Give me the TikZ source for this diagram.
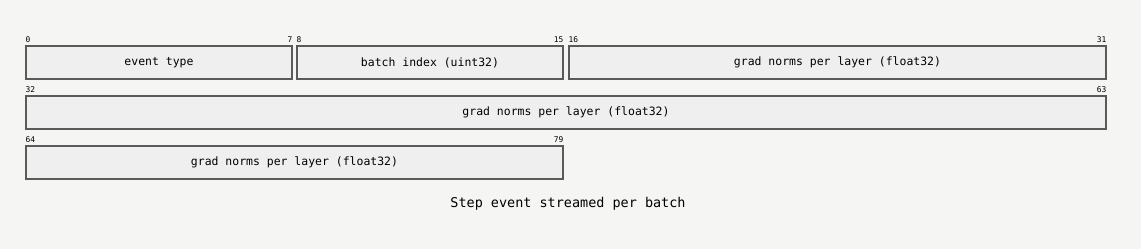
\documentclass[tikz,border=0pt]{standalone}
\usepackage{fontspec}
\setmonofont{DejaVu Sans Mono}
\usetikzlibrary{positioning}
\definecolor{bgcol}{HTML}{F5F5F4}
\definecolor{fieldfill}{HTML}{EFEFEF}
\definecolor{fieldline}{HTML}{5A5A5A}
\definecolor{inkcol}{HTML}{000000}

\begin{document}
\begin{tikzpicture}[
  x=0.75pt, y=-0.75pt,
  every node/.style={font=\ttfamily, text=inkcol},
  field/.style={draw=fieldline, fill=fieldfill, line width=0.9pt,
    minimum height=24.75pt, inner sep=0pt, font=\ttfamily\fontsize{8.6}{10}\selectfont},
  bitlo/.style={anchor=south west, inner sep=0pt, yshift=1.6pt,
    font=\ttfamily\fontsize{5.9}{6}\selectfont},
  bithi/.style={anchor=south east, inner sep=0pt, yshift=1.6pt,
    font=\ttfamily\fontsize{5.9}{6}\selectfont}
]
\fill[bgcol] (0,0) rectangle (1141,249);
\useasboundingbox (0,0) rectangle (1141,249);
% row 1
\node[field, minimum width=199.5pt] (evt) at (159,62.5) {event type};
\node[field, minimum width=199.5pt] (bidx) at (430,62.5) {batch index (uint32)};
\node[field, minimum width=402.75pt] (gn1) at (837.5,62.5) {grad norms per layer (float32)};
% row 2
\node[field, minimum width=810pt] (gn2) at (566,112.5) {grad norms per layer (float32)};
% row 3
\node[field, minimum width=402.75pt] (gn3) at (294.5,162.5) {grad norms per layer (float32)};
% bit offsets
\node[bitlo] at (evt.north west) {0};
\node[bithi] at (evt.north east) {7};
\node[bitlo] at (bidx.north west) {8};
\node[bithi] at (bidx.north east) {15};
\node[bitlo] at (gn1.north west) {16};
\node[bithi] at (gn1.north east) {31};
\node[bitlo] at (gn2.north west) {32};
\node[bithi] at (gn2.north east) {63};
\node[bitlo] at (gn3.north west) {64};
\node[bithi] at (gn3.north east) {79};
% caption
\node[font=\ttfamily\fontsize{10.1}{12}\selectfont] (cap) at (568,204) {Step event streamed per batch};
\end{tikzpicture}
\end{document}
